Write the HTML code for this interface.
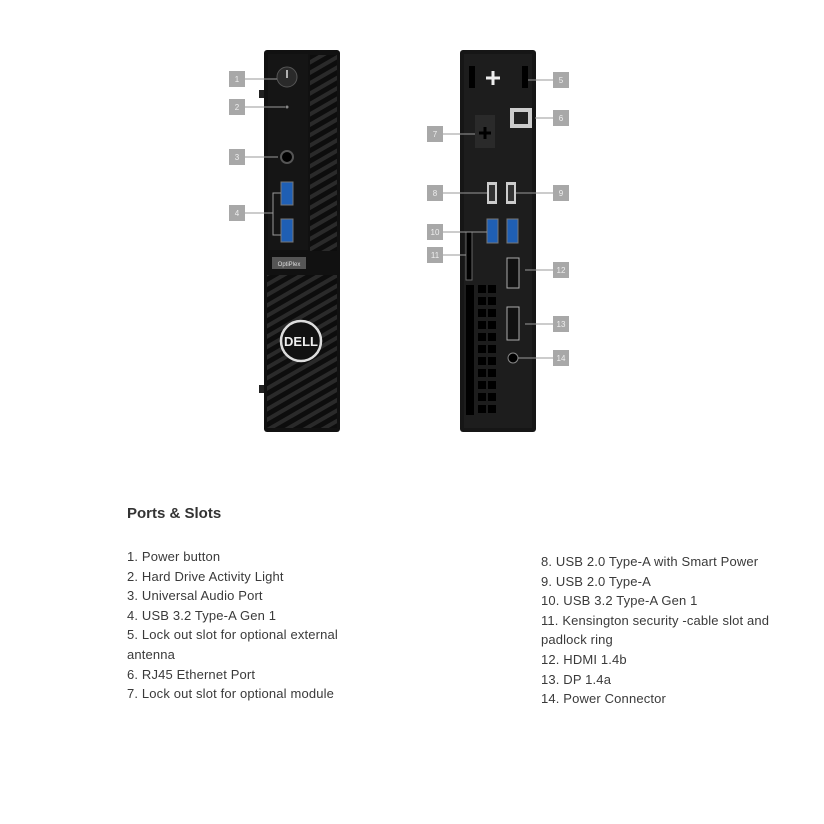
<!DOCTYPE html>
<html><head><meta charset="utf-8"><style>
body{margin:0;background:#fff;width:824px;height:824px;overflow:hidden;position:relative;font-family:"Liberation Sans",Arial,sans-serif}
.t{position:absolute;font-size:13px;letter-spacing:0.15px;color:#3a3a3a;line-height:19.6px}
h1{position:absolute;left:127px;top:505px;margin:0;font-size:15px;font-weight:bold;color:#333}
</style></head><body>
<svg width="824" height="460" style="position:absolute;left:0;top:0">
<defs>
<pattern id="g" width="9" height="9" patternUnits="userSpaceOnUse" patternTransform="rotate(-30)">
<rect width="9" height="9" fill="#0d0d0d"/><rect width="9" height="4" fill="#2a2a2a"/></pattern>
</defs>
<rect x="264" y="50" width="76" height="382" rx="3" fill="#111"/>
<rect x="310" y="55" width="27" height="196" fill="url(#g)"/>
<rect x="267" y="275" width="70" height="153" fill="url(#g)"/>
<rect x="268" y="54" width="40" height="196" fill="#151515"/>
<rect x="272" y="257" width="34" height="12" fill="#555"/>
<text x="289" y="266" font-size="6" fill="#ddd" text-anchor="middle" font-family="Liberation Sans">OptiPlex</text>
<circle cx="287" cy="77" r="10" fill="#2a2a2a" stroke="#555"/>
<line x1="287" y1="70" x2="287" y2="78" stroke="#ddd" stroke-width="1.5"/>
<circle cx="287" cy="107" r="1.5" fill="#888"/>
<circle cx="287" cy="157" r="6" fill="#000" stroke="#555" stroke-width="2"/>
<rect x="281" y="182" width="12" height="23" fill="#1f5fb4" stroke="#777"/>
<rect x="281" y="219" width="12" height="23" fill="#1f5fb4" stroke="#777"/>
<circle cx="301" cy="341" r="20" fill="#111" stroke="#ddd" stroke-width="2.5"/>
<text x="301" y="346" font-size="13" font-weight="bold" fill="#eee" text-anchor="middle" font-family="Liberation Sans">DELL</text>
<rect x="259" y="90" width="5" height="8" fill="#222"/><rect x="259" y="385" width="5" height="8" fill="#222"/>
<rect x="460" y="50" width="76" height="382" rx="3" fill="#161616"/>
<rect x="464" y="54" width="68" height="374" fill="#1d1d1d"/>
<rect x="469" y="66" width="6" height="22" fill="#000"/><rect x="522" y="66" width="6" height="22" fill="#000"/>
<path d="M486 78h14M493 71v14" stroke="#eee" stroke-width="3"/>
<rect x="475" y="115" width="20" height="33" fill="#2a2a2a"/>
<path d="M479 133h12M485 127v12" stroke="#000" stroke-width="3"/>
<rect x="510" y="108" width="22" height="20" fill="#ccc"/><rect x="514" y="112" width="14" height="12" fill="#222"/>
<rect x="487" y="182" width="10" height="22" fill="#ccc"/><rect x="489" y="185" width="6" height="16" fill="#333"/>
<rect x="506" y="182" width="10" height="22" fill="#ccc"/><rect x="508" y="185" width="6" height="16" fill="#333"/>
<rect x="487" y="219" width="11" height="24" fill="#1f5fb4" stroke="#777"/>
<rect x="507" y="219" width="11" height="24" fill="#1f5fb4" stroke="#777"/>
<rect x="466" y="232" width="6" height="48" fill="#000" stroke="#666"/>
<rect x="507" y="258" width="12" height="30" fill="#111" stroke="#aaa"/>
<rect x="507" y="307" width="12" height="33" fill="#111" stroke="#aaa"/>
<circle cx="513" cy="358" r="5" fill="#000" stroke="#888"/>
<g fill="#000">
<rect x="466" y="285" width="8" height="130"/><rect x="478" y="285" width="8" height="8"/><rect x="488" y="285" width="8" height="8"/>
<rect x="478" y="297" width="8" height="8"/><rect x="488" y="297" width="8" height="8"/><rect x="478" y="309" width="8" height="8"/><rect x="488" y="309" width="8" height="8"/>
<rect x="478" y="321" width="8" height="8"/><rect x="488" y="321" width="8" height="8"/><rect x="478" y="333" width="8" height="8"/><rect x="488" y="333" width="8" height="8"/>
<rect x="478" y="345" width="8" height="8"/><rect x="488" y="345" width="8" height="8"/><rect x="478" y="357" width="8" height="8"/><rect x="488" y="357" width="8" height="8"/>
<rect x="478" y="369" width="8" height="8"/><rect x="488" y="369" width="8" height="8"/><rect x="478" y="381" width="8" height="8"/><rect x="488" y="381" width="8" height="8"/>
<rect x="478" y="393" width="8" height="8"/><rect x="488" y="393" width="8" height="8"/><rect x="478" y="405" width="8" height="8"/><rect x="488" y="405" width="8" height="8"/>
</g>
<g stroke="#999" stroke-width="1">
<line x1="245" y1="79" x2="277" y2="79"/><line x1="245" y1="107" x2="285" y2="107"/>
<line x1="245" y1="157" x2="278" y2="157"/><line x1="245" y1="213" x2="273" y2="213"/>
<path d="M281 193h-8v42h8" fill="none"/>
<line x1="528" y1="80" x2="553" y2="80"/><line x1="535" y1="118" x2="553" y2="118"/>
<line x1="443" y1="134" x2="475" y2="134"/><line x1="443" y1="193" x2="487" y2="193"/>
<line x1="516" y1="193" x2="553" y2="193"/><line x1="443" y1="232" x2="487" y2="232"/>
<line x1="443" y1="255" x2="466" y2="255"/><line x1="525" y1="270" x2="553" y2="270"/>
<line x1="525" y1="324" x2="553" y2="324"/><line x1="518" y1="358" x2="553" y2="358"/>
</g>
<g fill="#a8a8a8">
<rect x="229" y="71" width="16" height="16"/><rect x="229" y="99" width="16" height="16"/><rect x="229" y="149" width="16" height="16"/><rect x="229" y="205" width="16" height="16"/>
<rect x="553" y="72" width="16" height="16"/><rect x="553" y="110" width="16" height="16"/><rect x="427" y="126" width="16" height="16"/>
<rect x="427" y="185" width="16" height="16"/><rect x="553" y="185" width="16" height="16"/><rect x="427" y="224" width="16" height="16"/>
<rect x="427" y="247" width="16" height="16"/><rect x="553" y="262" width="16" height="16"/><rect x="553" y="316" width="16" height="16"/><rect x="553" y="350" width="16" height="16"/>
</g>
<g fill="#eee" font-size="8" font-family="Liberation Sans" text-anchor="middle">
<text x="237" y="82">1</text><text x="237" y="110">2</text><text x="237" y="160">3</text><text x="237" y="216">4</text>
<text x="561" y="83">5</text><text x="561" y="121">6</text><text x="435" y="137">7</text><text x="435" y="196">8</text>
<text x="561" y="196">9</text><text x="435" y="235">10</text><text x="435" y="258">11</text><text x="561" y="273">12</text>
<text x="561" y="327">13</text><text x="561" y="361">14</text>
</g>
</svg>
<h1>Ports &amp; Slots</h1>
<div class="t" style="left:127px;top:547px">1. Power button<br>2. Hard Drive Activity Light<br>3. Universal Audio Port<br>4. USB 3.2 Type-A Gen 1<br>5. Lock out slot for optional external<br>antenna<br>6. RJ45 Ethernet Port<br>7. Lock out slot for optional module</div>
<div class="t" style="left:541px;top:552px">8. USB 2.0 Type-A with Smart Power<br>9. USB 2.0 Type-A<br>10. USB 3.2 Type-A Gen 1<br>11. Kensington security -cable slot and<br>padlock ring<br>12. HDMI 1.4b<br>13. DP 1.4a<br>14. Power Connector</div>
</body></html>
